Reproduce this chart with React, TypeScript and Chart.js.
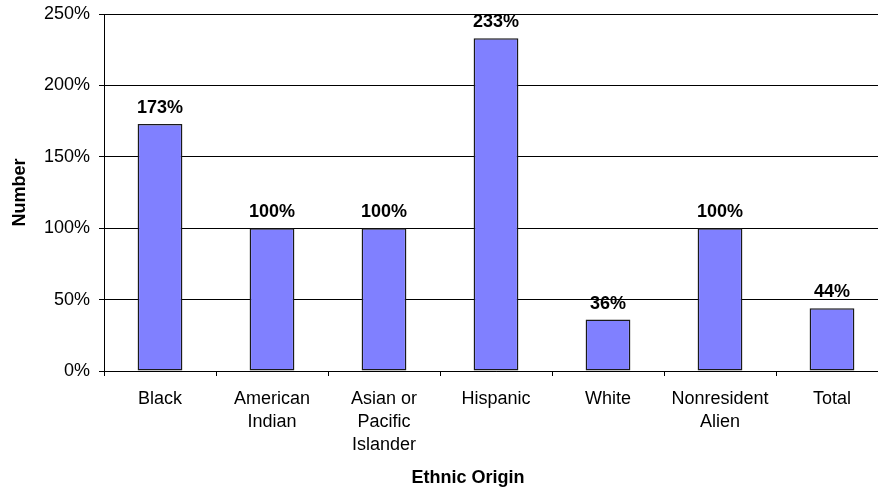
import { useEffect, useRef } from "react";
import { Chart, registerables, type Plugin } from "chart.js";

Chart.register(...registerables);

const categories = [
  "Black",
  ["American", "Indian"],
  ["Asian or", "Pacific", "Islander"],
  "Hispanic",
  "White",
  ["Nonresident", "Alien"],
  "Total",
];
const values = [173, 100, 100, 233, 36, 100, 44];
const yTicks = { min: 0, max: 250, step: 50 };

const FONT = "'Liberation Sans', Arial, sans-serif";

// bold percent labels above each bar
const barLabels: Plugin<"bar"> = {
  id: "barLabels",
  afterDatasetsDraw(chart) {
    const ctx = chart.ctx;
    const meta = chart.getDatasetMeta(0);
    ctx.save();
    ctx.font = `bold 18px ${FONT}`;
    ctx.fillStyle = "#000";
    ctx.textAlign = "center";
    ctx.textBaseline = "alphabetic";
    meta.data.forEach((bar, i) => {
      ctx.fillText(values[i] + "%", bar.x, bar.y - 11);
    });
    ctx.restore();
  },
};

// x axis title sits left of the plot centre in the original
const xTitle: Plugin<"bar"> = {
  id: "xTitle",
  afterDraw(chart) {
    const ctx = chart.ctx;
    ctx.save();
    ctx.font = `bold 18px ${FONT}`;
    ctx.fillStyle = "#000";
    ctx.textAlign = "center";
    ctx.textBaseline = "middle";
    ctx.fillText("Ethnic Origin", 468, 478);
    ctx.restore();
  },
};

const App = () => {
  const chartRef = useRef<HTMLCanvasElement>(null);

  useEffect(() => {
    document.body.style.margin = "0";
    const ctx = chartRef.current?.getContext("2d");
    if (!ctx) return;

    const chart = new Chart(ctx, {
      type: "bar",
      data: {
        labels: categories,
        datasets: [
          {
            data: values,
            backgroundColor: "#8080FF",
            borderColor: "#1a1a1a",
            borderWidth: 1.5,
            borderSkipped: false,
            barPercentage: 0.4,
            categoryPercentage: 1,
          },
        ],
      },
      options: {
        animation: false,
        responsive: true,
        maintainAspectRatio: false,
        layout: { padding: { top: 14, right: 0, left: 0, bottom: 0 } },
        plugins: {
          legend: { display: false },
          tooltip: { enabled: false },
        },
        scales: {
          x: {
            grid: {
              drawOnChartArea: false,
              drawTicks: true,
              tickLength: 5,
              color: "#000",
            },
            border: { color: "#000" },
            ticks: {
              color: "#000",
              padding: 12,
              maxRotation: 0,
              autoSkip: false,
              font: { family: FONT, size: 18, lineHeight: 23 / 18 },
            },
            afterFit: (scale) => {
              scale.height = 122;
              scale.paddingLeft = 0;
              scale.paddingRight = 0;
            },
          },
          y: {
            min: yTicks.min,
            max: yTicks.max,
            grid: { color: "#000", tickLength: 5 },
            border: { color: "#000" },
            ticks: {
              stepSize: yTicks.step,
              color: "#000",
              padding: 9,
              font: { family: FONT, size: 18 },
              callback: (v) => v + "%",
            },
            title: {
              display: true,
              text: "Number",
              color: "#000",
              padding: { top: 9, bottom: 0 },
              font: { family: FONT, size: 18, weight: "bold" },
            },
            afterFit: (scale) => {
              scale.width = 104;
              scale.paddingTop = 0;
              scale.paddingBottom = 0;
            },
          },
        },
      },
      plugins: [barLabels, xTitle],
    });

    return () => {
      chart.destroy();
    };
  }, []);

  return (
    <div style={{ width: 878, height: 493, overflow: "hidden" }}>
      <div style={{ position: "relative", width: 888, height: 493 }}>
        <canvas ref={chartRef} />
      </div>
    </div>
  );
};

export default App;
